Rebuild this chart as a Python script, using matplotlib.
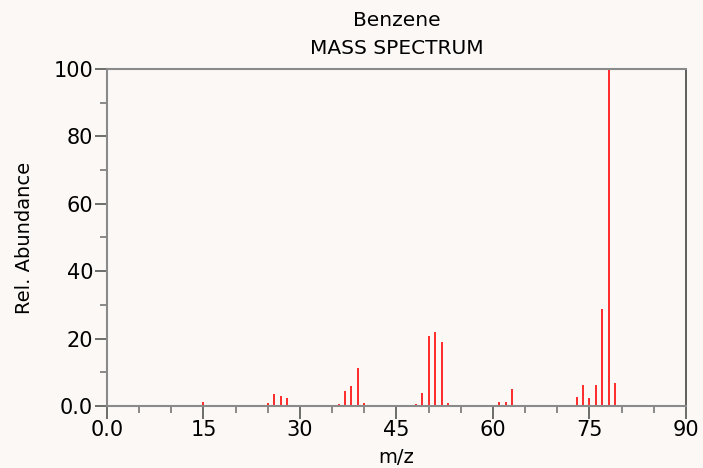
import numpy as np
import matplotlib.pyplot as plt
from matplotlib.ticker import MultipleLocator, FixedLocator, FixedFormatter

# Пики масс-спектра бензола (m/z и относительная интенсивность)
mz = [15, 25, 26, 27, 28, 36, 37, 38, 39, 40, 48, 49, 50, 51, 52, 53,
      61, 62, 63, 73, 74, 75, 76, 77, 78, 79]
abundance = [1.3, 0.8, 3.6, 3.0, 2.4, 0.6, 4.4, 5.8, 11.2, 1.0, 0.5, 4.0,
             20.9, 22.0, 18.9, 0.8, 1.1, 1.1, 5.0, 2.7, 6.2, 2.4, 6.1,
             28.7, 100.0, 6.8]

x_ticks = [0, 15, 30, 45, 60, 75, 90]
x_labels = ['0.0', '15', '30', '45', '60', '75', '90']
y_ticks = [0, 20, 40, 60, 80, 100]
y_labels = ['0.0', '20', '40', '60', '80', '100']

bg = '#fcf8f5'
fig = plt.figure(figsize=(7.03, 4.68), dpi=100, facecolor=bg)
ax = fig.add_axes([0.1522, 0.1325, 0.8236, 0.7201], facecolor=bg)

ax.vlines(mz, 0, abundance, color='#ff2a2a', linewidth=1.4)

ax.set_xlim(0, 90)
ax.set_ylim(0, 100)

ax.xaxis.set_major_locator(FixedLocator(x_ticks))
ax.xaxis.set_major_formatter(FixedFormatter(x_labels))
ax.xaxis.set_minor_locator(MultipleLocator(5))
ax.yaxis.set_major_locator(FixedLocator(y_ticks))
ax.yaxis.set_major_formatter(FixedFormatter(y_labels))
ax.yaxis.set_minor_locator(MultipleLocator(10))

ax.tick_params(which='major', length=9, width=1.2, color='#555555',
               labelsize=15, pad=1)
ax.tick_params(which='minor', length=5, width=1.2, color='#777777')

for side in ['top', 'left', 'bottom']:
    ax.spines[side].set_color('#8a8a8a')
    ax.spines[side].set_linewidth(1.5)
ax.spines['right'].set_color('#444444')
ax.spines['right'].set_linewidth(1.2)

ax.set_xlabel('m/z', fontsize=14, labelpad=6)
ax.set_ylabel('Rel. Abundance', fontsize=14, labelpad=14)

fig.text(0.564, 0.957, 'Benzene', ha='center', va='center', fontsize=14.5)
fig.text(0.564, 0.897, 'MASS SPECTRUM', ha='center', va='center', fontsize=14.5)

fig.savefig('out.png', dpi=100, facecolor=bg)
